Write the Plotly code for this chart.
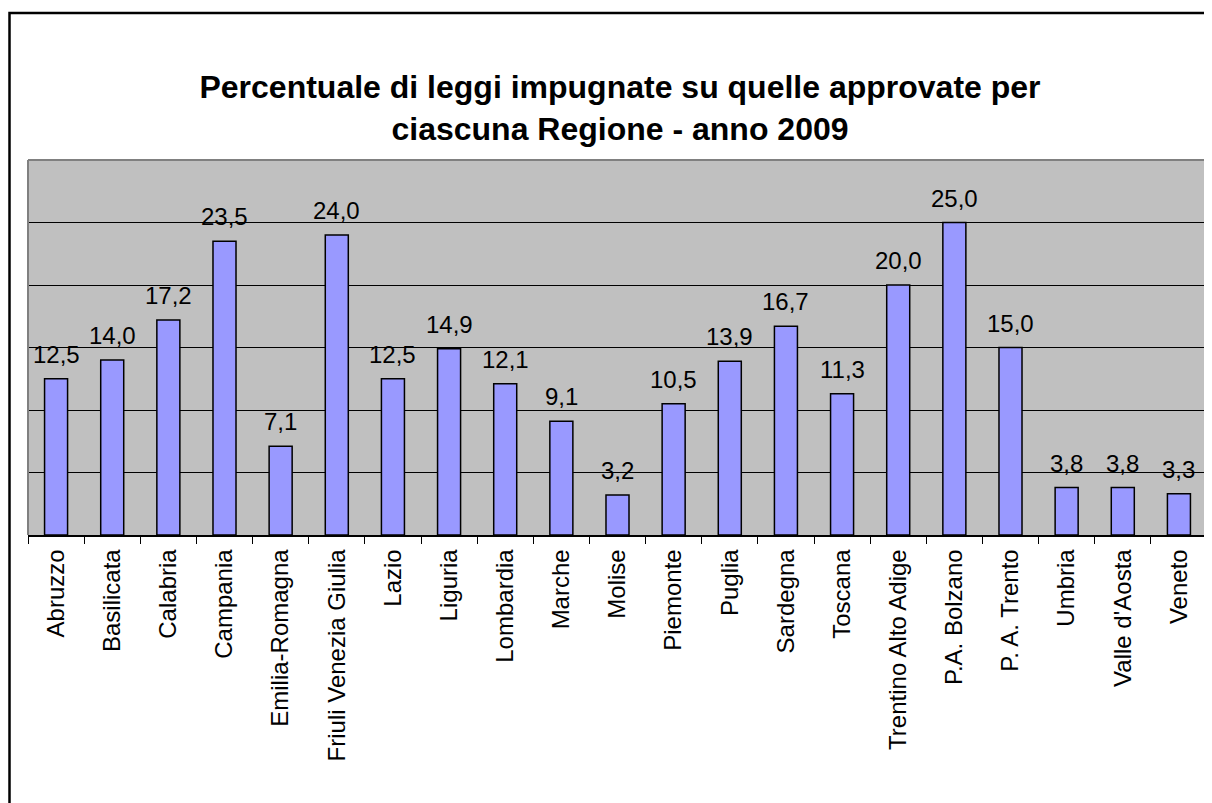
import plotly.graph_objects as go

regions = ["Abruzzo", "Basilicata", "Calabria", "Campania", "Emilia-Romagna",
           "Friuli Venezia Giulia", "Lazio", "Liguria", "Lombardia", "Marche",
           "Molise", "Piemonte", "Puglia", "Sardegna", "Toscana",
           "Trentino Alto Adige", "P.A. Bolzano", "P. A. Trento", "Umbria",
           "Valle d'Aosta", "Veneto"]
values = [12.5, 14.0, 17.2, 23.5, 7.1, 24.0, 12.5, 14.9, 12.1, 9.1,
          3.2, 10.5, 13.9, 16.7, 11.3, 20.0, 25.0, 15.0, 3.8, 3.8, 3.3]
title_text = "<b>Percentuale di leggi impugnate su quelle approvate per<br>ciascuna Regione - anno 2009</b>"

OFF = 8  # default page body margin
W, H = 1212, 803
# plot area in page pixels: x 28..1207, y 160..535
L = 28 - OFF
T = 160 - OFF
R = W - (1207 - OFF)
B = H - (535 - OFF)
pw, ph = W - L - R, H - T - B

def px_x(p):
    return (p - OFF - L) / pw

def px_y(p):
    return (H - B - (p - OFF)) / ph

FONT = "Liberation Sans, Arial, sans-serif"

fig = go.Figure(go.Bar(
    x=regions, y=values,
    marker=dict(color="#9999FF", line=dict(color="black", width=1.5)),
    width=0.41,
    hoverinfo="skip",
))

for r, v in zip(regions, values):
    fig.add_annotation(x=r, y=v, text=f"{v:.1f}".replace(".", ","),
                       showarrow=False, yanchor="bottom", yshift=9,
                       font=dict(family=FONT, size=24, color="black"))

# outer chart border (clipped at right and bottom)
fig.add_shape(type="rect", xref="paper", yref="paper",
              x0=px_x(9.5), x1=px_x(1240), y0=px_y(840), y1=px_y(13),
              line=dict(color="black", width=2.5), layer="below")
# plot-area gray border (left, top, right)
for x0, y0, x1, y1 in [(0, 0, 0, 1), (0, 1, 1, 1), (1, 0, 1, 1)]:
    fig.add_shape(type="line", xref="paper", yref="paper",
                  x0=x0, y0=y0, x1=x1, y1=y1,
                  line=dict(color="#808080", width=2))

fig.update_layout(
    width=W, height=H,
    margin=dict(l=L, r=R, t=T, b=B),
    paper_bgcolor="white", plot_bgcolor="#C0C0C0",
    title=dict(text=title_text, x=(620 - OFF) / W, xanchor="center",
               y=1 - (98 - OFF) / H, yanchor="middle",
               font=dict(family=FONT, size=32, color="black")),
    showlegend=False,
    bargap=0.59,
    font=dict(family=FONT, color="black"),
)
fig.update_xaxes(
    type="category", tickangle=-90, ticks="outside", ticklen=7,
    tickcolor="black", tickwidth=1, tickson="boundaries",
    showline=True, linecolor="black", linewidth=1.5,
    ticklabelstandoff=3,
    showgrid=False, tickfont=dict(family=FONT, size=24, color="black"),
)
fig.update_yaxes(
    range=[0, 30], dtick=5, showgrid=True, gridcolor="black", gridwidth=1,
    showticklabels=False, zeroline=False, showline=False, ticks="",
)

fig.write_html("out.html")
